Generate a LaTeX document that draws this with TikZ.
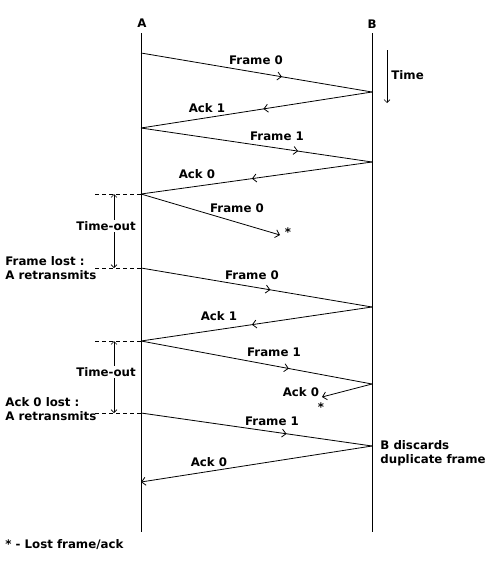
\documentclass[tikz,border=0pt]{standalone}
\usepackage{fontspec}
\setmainfont{DejaVu Sans}
\usetikzlibrary{arrows.meta,decorations.markings}
\begin{document}
\begin{tikzpicture}[x=1pt,y=-1pt,line width=0.8pt,
  lbl/.style={font=\fontsize{11.8}{14.5}\selectfont\bfseries,inner sep=0pt},
  lblL/.style={lbl,anchor=west,align=left},
  midarrow/.style={postaction={decorate},decoration={markings,mark=at position #1 with {\arrow{Straight Barb[length=4pt,width=8pt]}}}},
  endarrow/.style={-{Straight Barb[length=4pt,width=8pt]}},
  guide/.style={dash pattern=on 4pt off 3pt},
  timeline/.style={line width=0.9pt}]
\useasboundingbox (0,0) rectangle (493,565);

% stations
\node[lbl] (Alab) at (142,23) {A};
\node[lbl] (Blab) at (372,24) {B};
\coordinate (Atop) at (141,33);
\coordinate (Abot) at (141,532);
\coordinate (Btop) at (372,33);
\coordinate (Bbot) at (372,532);
\draw[timeline] (Atop) -- (Abot);
\draw[timeline] (Btop) -- (Bbot);

% time arrow
\coordinate (T1) at (387,50);
\coordinate (T2) at (387,103);
\draw[line width=0.6pt,-{Straight Barb[length=3pt,width=6pt]}] (T1) -- (T2);
\node[lblL] (Tlab) at (391,75) {Time};

% event points
\coordinate (a1) at (141,53);
\coordinate (b1) at (372,92);
\coordinate (a2) at (141,128);
\coordinate (b2) at (372,162);
\coordinate (a3) at (141,194);
\coordinate (l1) at (280,235);
\coordinate (a4) at (141,268);
\coordinate (b4) at (372,307);
\coordinate (a5) at (141,341);
\coordinate (b5) at (372,384);
\coordinate (l2) at (322,397);
\coordinate (a6) at (141,413);
\coordinate (b6) at (372,446);
\coordinate (a7) at (141,482);

% messages
\draw[midarrow=0.61] (a1) -- (b1);
\node[lbl] (m1) at (256,60) {Frame 0};
\draw[midarrow=0.47] (b1) -- (a2);
\node[lbl] (m2) at (207,108) {Ack 1};
\draw[midarrow=0.68] (a2) -- (b2);
\node[lbl] (m3) at (277,136) {Frame 1};
\draw[midarrow=0.52] (b2) -- (a3);
\node[lbl] (m4) at (197,174) {Ack 0};
\draw[endarrow] (a3) -- (l1);
\node[lbl] (m5) at (237,208) {Frame 0};
\node[lbl] (s1) at (288,232) {*};
\draw[midarrow=0.56] (a4) -- (b4);
\node[lbl] (m6) at (252,275) {Frame 0};
\draw[midarrow=0.52] (b4) -- (a5);
\node[lbl] (m7) at (219,316) {Ack 1};
\draw[midarrow=0.64] (a5) -- (b5);
\node[lbl] (m8) at (274,352) {Frame 1};
\draw[endarrow] (b5) -- (l2);
\node[lbl] (m9) at (301,392) {Ack 0};
\node[lbl] (s2) at (321,407) {*};
\draw[midarrow=0.63] (a6) -- (b6);
\node[lbl] (m10) at (272,421) {Frame 1};
\draw[endarrow] (b6) -- (a7);
\node[lbl] (m11) at (209,462) {Ack 0};
\node[lblL] (disc) at (380,453) {B discards\\duplicate frame};

% time-outs
\coordinate (g1) at (95,194);
\coordinate (g2) at (95,268);
\coordinate (g3) at (95,341);
\coordinate (g4) at (95,413);
\draw[guide] (g1) -- (a3);
\draw[guide] (g2) -- (a4);
\draw[guide] (g3) -- (a5);
\draw[guide] (g4) -- (a6);
\coordinate (t1a) at (114,194);
\coordinate (t1b) at (114,268);
\coordinate (t2a) at (114,341);
\coordinate (t2b) at (114,413);
\draw[line width=0.6pt,{Straight Barb[length=3pt,width=6pt]}-{Straight Barb[length=3pt,width=6pt]}] (t1a) -- (t1b);
\draw[line width=0.6pt,{Straight Barb[length=3pt,width=6pt]}-{Straight Barb[length=3pt,width=6pt]}] (t2a) -- (t2b);
\node[lbl,fill=white,inner sep=1pt] (to1) at (106,226) {Time-out};
\node[lbl,fill=white,inner sep=1pt] (to2) at (106,372) {Time-out};

\node[lblL] (fl) at (5,268) {Frame lost :\\A retransmits};
\node[lblL] (al) at (5,409) {Ack 0 lost :\\A retransmits};

\node[lblL] (legend) at (5,545) {* - Lost frame/ack};
\end{tikzpicture}
\end{document}
